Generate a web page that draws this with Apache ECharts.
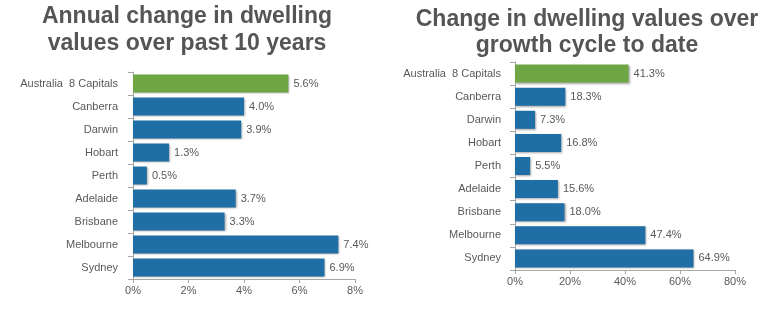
<!DOCTYPE html>
<html>
<head>
<meta charset="utf-8">
<script src="https://cdn.jsdelivr.net/npm/echarts@6/dist/echarts.min.js"></script>
<style>
html,body{margin:0;padding:0;background:#fff;}
#main{width:769px;height:324px;}
</style>
</head>
<body>
<div id="main"></div>
<script>
var categories = ['Australia  8 Capitals', 'Canberra', 'Darwin', 'Hobart', 'Perth', 'Adelaide', 'Brisbane', 'Melbourne', 'Sydney'];
var annualChange = [5.6, 4.0, 3.9, 1.3, 0.5, 3.7, 3.3, 7.4, 6.9];
var cycleChange = [41.3, 18.3, 7.3, 16.8, 5.5, 15.6, 18.0, 47.4, 64.9];
var leftTicks = {min: 0, max: 8, interval: 2};
var rightTicks = {min: 0, max: 80, interval: 20};
var leftTitle = 'Annual change in dwelling\nvalues over past 10 years';
var rightTitle = 'Change in dwelling values over\ngrowth cycle to date';

var GREEN = '#6ea644';
var BLUE = '#1f6ea6';
var FONT = '"Liberation Sans", Arial, sans-serif';

function colored(vals) {
  return vals.map(function (v, i) {
    return {value: v, itemStyle: {color: i === 0 ? GREEN : BLUE}};
  });
}

function xAxisFor(idx, t) {
  return {
    type: 'value', gridIndex: idx, min: t.min, max: t.max, interval: t.interval,
    axisLine: {show: true, lineStyle: {color: '#a6a6a6'}},
    axisTick: {show: true, length: 4, lineStyle: {color: '#a6a6a6'}},
    splitLine: {show: false},
    axisLabel: {formatter: '{value}%', color: '#595959', fontSize: 11, fontFamily: FONT, margin: 6}
  };
}
function yAxisFor(idx, margin) {
  return {
    type: 'category', gridIndex: idx, data: categories, inverse: true,
    axisLine: {show: true, lineStyle: {color: '#a6a6a6'}},
    axisTick: {show: true, length: 5, lineStyle: {color: '#a6a6a6'}},
    axisLabel: {color: '#595959', fontSize: 11, fontFamily: FONT, margin: margin}
  };
}
function seriesFor(idx, vals) {
  return {
    type: 'bar', xAxisIndex: idx, yAxisIndex: idx, data: colored(vals),
    barCategoryGap: '22%',
    itemStyle: {shadowColor: 'rgba(0,0,0,0.35)', shadowBlur: 2, shadowOffsetX: 1, shadowOffsetY: 1},
    label: {show: true, position: 'right', distance: 5, formatter: function (p) { return p.value.toFixed(1) + '%'; },
      color: '#595959', fontSize: 11, fontFamily: FONT},
    animation: false
  };
}

var chart = echarts.init(document.getElementById('main'), null, {renderer: 'canvas'});
chart.setOption({
  animation: false,
  backgroundColor: '#fff',
  title: [
    {text: leftTitle, left: 182, top: -2, textAlign: 'center',
      textStyle: {fontSize: 23, fontWeight: 'bold', color: '#555555', fontFamily: FONT, lineHeight: 27}},
    {text: rightTitle, left: 582, top: 2, textAlign: 'center',
      textStyle: {fontSize: 23, fontWeight: 'bold', color: '#555555', fontFamily: FONT, lineHeight: 26}}
  ],
  grid: [
    {left: 133, right: 414, top: 72, bottom: 45, containLabel: false},
    {left: 515, right: 34, top: 62, bottom: 54, containLabel: false}
  ],
  xAxis: [xAxisFor(0, leftTicks), xAxisFor(1, rightTicks)],
  yAxis: [yAxisFor(0, 15), yAxisFor(1, 14)],
  series: [seriesFor(0, annualChange), seriesFor(1, cycleChange)]
});
</script>
</body>
</html>
